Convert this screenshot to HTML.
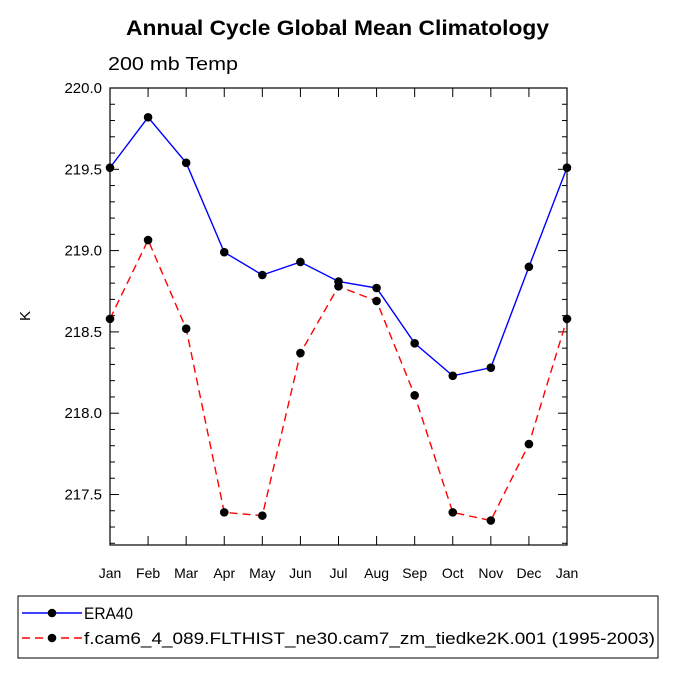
<!DOCTYPE html>
<html><head><meta charset="utf-8"><style>
html,body{margin:0;padding:0;background:#fff;width:675px;height:675px;overflow:hidden}
text{font-family:"Liberation Sans",Arial,sans-serif}
</style></head><body>
<svg id="chart" width="675" height="675">
<text x="126" y="35" font-size="21" font-weight="bold" textLength="423" lengthAdjust="spacingAndGlyphs">Annual Cycle Global Mean Climatology</text>
<text x="108" y="70" font-size="18" textLength="130" lengthAdjust="spacingAndGlyphs">200 mb Temp</text>
<text transform="translate(30,316) rotate(-90)" text-anchor="middle" font-size="15">K</text>
<g id="axes"></g>
<g id="series"></g>
<rect x="18" y="596" width="640" height="62" fill="none" stroke="#000" stroke-width="1"/>
<g id="legend"></g>
</svg>
<script>
const months=["Jan","Feb","Mar","Apr","May","Jun","Jul","Aug","Sep","Oct","Nov","Dec","Jan"];
const era40=[219.51,219.82,219.54,218.99,218.85,218.93,218.81,218.77,218.43,218.23,218.28,218.90,219.51];
const model=[218.58,219.065,218.52,217.39,217.37,218.37,218.78,218.69,218.11,217.39,217.34,217.81,218.58];
const yTicks=[217.5,218.0,218.5,219.0,219.5,220.0];
const seriesNames=["ERA40","f.cam6_4_089.FLTHIST_ne30.cam7_zm_tiedke2K.001 (1995-2003)"];
const legendWidths=[49,571];
const NS="http://www.w3.org/2000/svg";
const L=110,R=567,T=88,B=545,yMax=220.0,yMin=220.0-(B-T)/162.6;
const xs=i=>L+(R-L)*i/(months.length-1);
const ys=v=>T+(yMax-v)/(yMax-yMin)*(B-T);
function mk(tag,attrs,parent){const e=document.createElementNS(NS,tag);for(const k in attrs)e.setAttribute(k,attrs[k]);parent.appendChild(e);return e;}
const ax=document.getElementById('axes');
const frame=mk('rect',{x:L,y:T,width:R-L,height:B-T,fill:'none',stroke:'#000','stroke-width':1.2},ax);


for(let v=Math.ceil(yMin*10)/10;v<=yMax+1e-6;v=Math.round((v+0.1)*10)/10){
  const y=ys(v);const major=Math.abs(v*2-Math.round(v*2))<1e-6;const len=major?9:5;
  mk('line',{x1:L,y1:y,x2:L+len,y2:y,stroke:'#000'},ax);
  mk('line',{x1:R,y1:y,x2:R-len,y2:y,stroke:'#000'},ax);
}
yTicks.forEach(v=>{
  const t=mk('text',{x:L-8,y:ys(v)+5,'text-anchor':'end','font-size':15},ax);t.textContent=v.toFixed(1);
  
  
});
months.forEach((m,i)=>{
  const x=xs(i);
  mk('line',{x1:x,y1:B,x2:x,y2:B-9,stroke:'#000'},ax);
  mk('line',{x1:x,y1:T,x2:x,y2:T+9,stroke:'#000'},ax);
  const t=mk('text',{x:x,y:B+33,'text-anchor':'middle','font-size':14},ax);t.textContent=m;
  
  
});
const sg=document.getElementById('series');
function drawSeries(vals,color,dash,name){
  const g=mk('g',{},sg);
  
  
  const pts=vals.map((v,i)=>xs(i)+','+ys(v)).join(' ');
  const attrs={points:pts,fill:'none',stroke:color,'stroke-width':1.4};
  if(dash)attrs['stroke-dasharray']=dash;
  mk('polyline',attrs,g);
  vals.forEach((v,i)=>{
    const c=mk('circle',{cx:xs(i),cy:ys(v),r:4.3,fill:'#000'},g);
    
    
  });
}
drawSeries(era40,'#0000ff',null,'series-era40');
drawSeries(model,'#ff0000','8 5','series-model');
const lg=document.getElementById('legend');
[['#0000ff',null,613],['#ff0000','8 5',638]].forEach((s,i)=>{
  const g=mk('g',{},lg);
  
  
  const a={x1:22,y1:s[2],x2:82,y2:s[2],stroke:s[0],'stroke-width':1.4};if(s[1])a['stroke-dasharray']=s[1];
  mk('line',a,g);
  mk('circle',{cx:52,cy:s[2],r:4.3,fill:'#000'},g);
  const t=mk('text',{x:84,y:s[2]+6,'font-size':17,textLength:legendWidths[i],lengthAdjust:'spacingAndGlyphs'},g);t.textContent=seriesNames[i];
});
</script>
</body></html>
